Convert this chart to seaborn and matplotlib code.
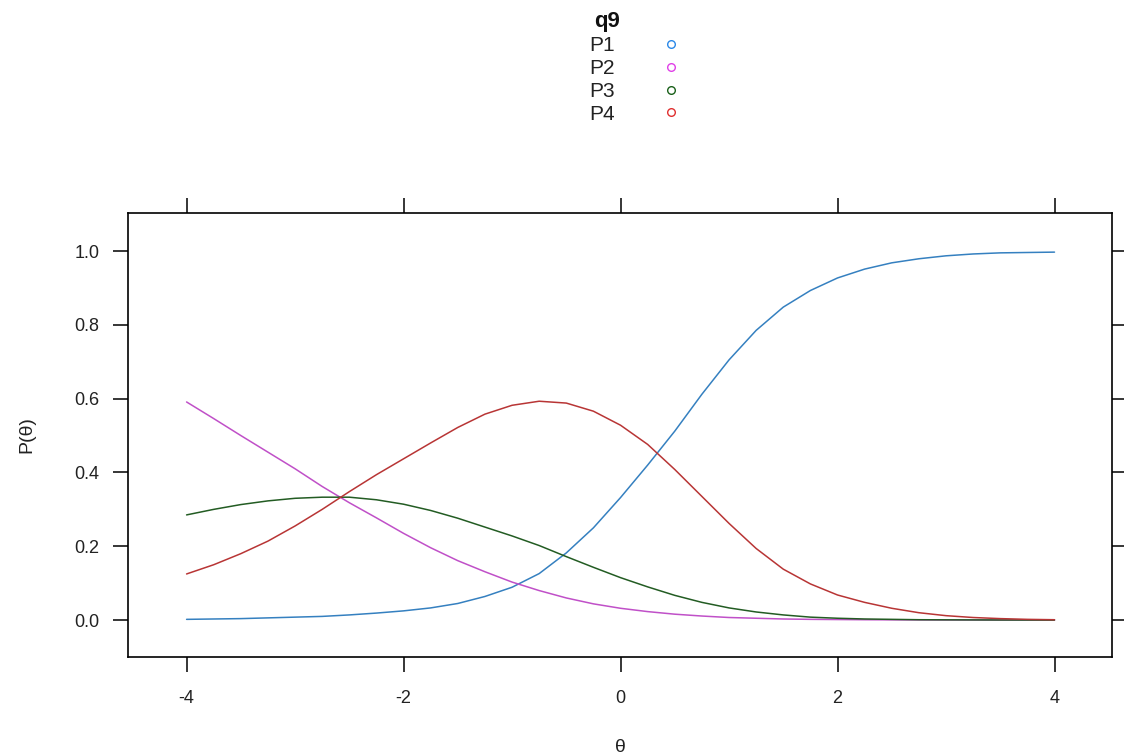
import numpy as np
import pandas as pd
import matplotlib
matplotlib.use("Agg")
import matplotlib.pyplot as plt
import seaborn as sns
from matplotlib.lines import Line2D

# ---- data ----
theta = [-4.0, -3.75, -3.5, -3.25, -3.0, -2.75, -2.5, -2.25, -2.0, -1.75, -1.5,
         -1.25, -1.0, -0.75, -0.5, -0.25, 0.0, 0.25, 0.5, 0.75, 1.0, 1.25, 1.5,
         1.75, 2.0, 2.25, 2.5, 2.75, 3.0, 3.25, 3.5, 3.75, 4.0]

p1 = [0.002, 0.003, 0.004, 0.006, 0.008, 0.010, 0.014, 0.019, 0.025, 0.033, 0.045,
      0.064, 0.089, 0.126, 0.182, 0.250, 0.332, 0.420, 0.512, 0.612, 0.705, 0.785, 0.848,
      0.893, 0.927, 0.951, 0.968, 0.979, 0.987, 0.992, 0.995, 0.996, 0.997]

p2 = [0.591, 0.546, 0.500, 0.455, 0.410, 0.362, 0.318, 0.277, 0.235, 0.196, 0.161,
      0.131, 0.103, 0.080, 0.060, 0.044, 0.032, 0.023, 0.016, 0.011, 0.007, 0.005, 0.003,
      0.002, 0.0015, 0.001, 0.0007, 0.0005, 0.0003, 0.0002, 0.0001, 0.0001, 0.0]

p3 = [0.285, 0.300, 0.313, 0.323, 0.330, 0.333, 0.333, 0.326, 0.314, 0.297, 0.276,
      0.252, 0.228, 0.202, 0.172, 0.143, 0.115, 0.090, 0.067, 0.048, 0.033, 0.022, 0.014,
      0.008, 0.005, 0.003, 0.002, 0.001, 0.0007, 0.0005, 0.0003, 0.0002, 0.0001]

p4 = [0.125, 0.150, 0.180, 0.214, 0.255, 0.300, 0.348, 0.394, 0.437, 0.480, 0.522,
      0.558, 0.582, 0.593, 0.588, 0.566, 0.528, 0.476, 0.408, 0.335, 0.262, 0.194, 0.138,
      0.098, 0.068, 0.048, 0.032, 0.020, 0.012, 0.007, 0.004, 0.002, 0.001]

categories = ["P1", "P2", "P3", "P4"]
line_colors = ["#3580c0", "#c050c8", "#235c23", "#b83535"]
key_colors = ["#2a88e8", "#e040e8", "#1a601a", "#e03030"]
title = "q9"
x_ticks = [-4, -2, 0, 2, 4]
y_ticks = [0.0, 0.2, 0.4, 0.6, 0.8, 1.0]

# ---- build long table ----
df = pd.DataFrame({
    "theta": theta * 4,
    "P": p1 + p2 + p3 + p4,
    "cat": sum([[c] * len(theta) for c in categories], []),
})

sns.set_style("white")
plt.rcParams["font.family"] = ["Liberation Sans", "DejaVu Sans"]

W, H = 1124, 755
fig = plt.figure(figsize=(W / 100, H / 100), dpi=100)
ax = fig.add_axes([128 / W, 1 - 657 / H, (1112 - 128) / W, (657 - 213) / H])

sns.lineplot(data=df, x="theta", y="P", hue="cat", hue_order=categories,
             palette=dict(zip(categories, line_colors)), estimator=None,
             sort=True, linewidth=1.1, legend=False, ax=ax)

ax.set_xlim(-4.54, 4.53)
ax.set_ylim(-0.1, 1.103)
ax.set_xticks(x_ticks)
ax.set_xticklabels([str(t) for t in x_ticks])
ax.set_yticks(y_ticks)
ax.set_yticklabels([f"{t:.1f}" for t in y_ticks])

for s in ax.spines.values():
    s.set_visible(True)
    s.set_color("black")
    s.set_linewidth(1.2)

ax.tick_params(axis="both", which="both", direction="out", length=10.5, width=1.1,
               color="black", top=True, right=True, bottom=True, left=True,
               labeltop=False, labelright=False, labelsize=13,
               labelcolor="#222222")
ax.tick_params(axis="x", pad=13)
ax.tick_params(axis="y", pad=10)

ax.set_xlabel("θ", fontsize=14, labelpad=23, color="#222222")
ax.set_ylabel("P(θ)", fontsize=14, labelpad=28, color="#222222")

fig.suptitle(title, x=607 / W, y=1 - 22 / H, va="center", ha="center",
             fontsize=16, fontweight="bold", color="#111111")

handles = [Line2D([], [], linestyle="none", marker="o", markersize=5.5,
                  markerfacecolor="none", markeredgecolor=c, markeredgewidth=1.0)
           for c in key_colors]
leg = fig.legend(handles, categories, loc="upper left",
                 bbox_to_anchor=((589 - 8) / W, 1 - 28 / H), frameon=False,
                 markerfirst=False, fontsize=15, handlelength=1.0,
                 handletextpad=2.2, labelspacing=0.18, borderaxespad=0.0)
for t in leg.get_texts():
    t.set_color("#222222")

fig.savefig("out.png", dpi=100, facecolor="white")
